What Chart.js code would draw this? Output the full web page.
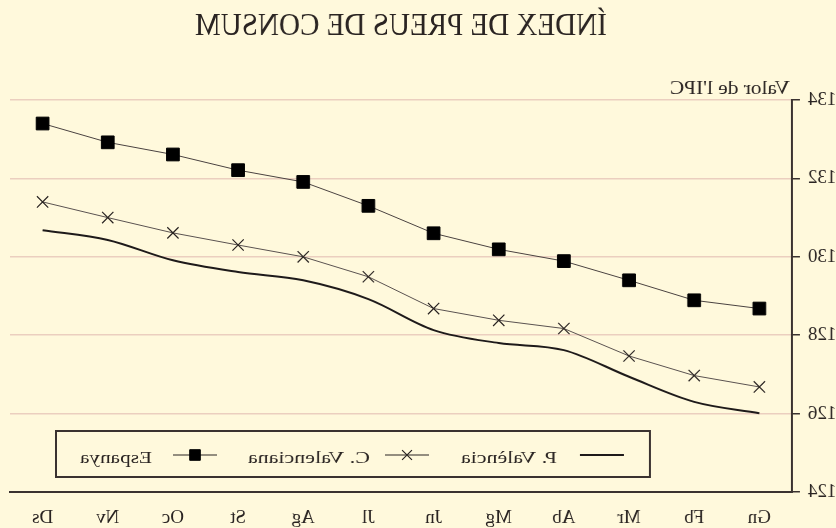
<!DOCTYPE html>
<html>
<head>
<meta charset="utf-8">
<script src="https://cdn.jsdelivr.net/npm/chart.js@4/dist/chart.umd.min.js"></script>
<style>
  html, body { margin: 0; padding: 0; background: #fff9dc; }
  /* the reference picture is mirrored left-right */
  #wrap { width: 836px; height: 528px; transform: scaleX(-1); }
</style>
</head>
<body>
<div id="wrap"><canvas id="ipcChart" width="836" height="528"></canvas></div>
<script>
// months (Gn..Ds)
const months = ['Gn', 'Fb', 'Mr', 'Ab', 'Mg', 'Jn', 'Jl', 'Ag', 'St', 'Oc', 'Nv', 'Ds'];

// values
const pValencia = [126.01, 126.30, 126.94, 127.62, 127.80, 128.13, 128.92, 129.40, 129.61, 129.91, 130.43, 130.68];
const cValenciana = [126.68, 126.97, 127.47, 128.17, 128.38, 128.68, 129.49, 130.00, 130.30, 130.61, 131.00, 131.40];
const espanya = [128.68, 128.89, 129.40, 129.89, 130.19, 130.60, 131.30, 131.91, 132.21, 132.61, 132.92, 133.40];

const yTicks = [124, 126, 128, 130, 132, 134];

const titleText = 'ÍNDEX DE PREUS DE CONSUM';
const yAxisText = "Valor de l'IPC";

const axisColor = '#3a3230';
const gridColor = '#ebcfbf';
const textColor = '#2a2422';
const serif = "'Liberation Serif', 'DejaVu Serif', serif";

// draw text left-aligned, squeezed/stretched to a given width
function fitText(c, text, x, y, width) {
    const w = c.measureText(text).width;
    c.save();
    c.translate(x, y);
    c.scale(width / w, 1);
    c.fillText(text, 0, 0);
    c.restore();
}

// title, axis caption and the boxed legend
const extrasPlugin = {
    id: 'extras',
    afterDraw(chart) {
        const c = chart.ctx;
        c.save();
        c.fillStyle = textColor;
        c.textAlign = 'left';
        c.textBaseline = 'alphabetic';

        c.font = '32px ' + serif;
        fitText(c, titleText, 229, 35, 412);

        c.font = '18px ' + serif;
        fitText(c, yAxisText, 46, 94, 120);

        // legend box
        c.strokeStyle = axisColor;
        c.lineWidth = 2;
        c.strokeRect(186, 431, 594, 46);

        const slots = [
            { x: 212, textX: 279, textW: 96 },
            { x: 407, textX: 466, textW: 122 },
            { x: 619, textX: 684, textW: 72 }
        ];
        const y = 455;
        chart.data.datasets.forEach((ds, i) => {
            const s = slots[i];
            c.strokeStyle = i === 0 ? ds.borderColor : '#2a2422';
            c.lineWidth = i === 0 ? 2 : 1.2;
            c.beginPath();
            c.moveTo(s.x, y);
            c.lineTo(s.x + 44, y);
            c.stroke();
            if (ds.pointRadius > 0) {
                c.fillStyle = ds.pointBackgroundColor;
                c.strokeStyle = ds.pointBorderColor;
                c.lineWidth = ds.pointBorderWidth;
                Chart.helpers.drawPoint(c, {
                    pointStyle: ds.pointStyle,
                    radius: ds.pointStyle === 'rect' ? 7.5 : 7,
                    borderWidth: ds.pointBorderWidth,
                    rotation: 0
                }, s.x + 22, y);
            }
            c.fillStyle = textColor;
            c.font = '17px ' + serif;
            fitText(c, ds.label, s.textX, 463, s.textW);
        });
        c.restore();
    }
};

const ctx = document.getElementById('ipcChart').getContext('2d');
const ipcChart = new Chart(ctx, {
    type: 'line',
    data: {
        labels: months,
        datasets: [{
            label: 'P. València',
            data: pValencia,
            borderColor: '#1e1a1a',
            borderWidth: 2,
            pointRadius: 0,
            pointStyle: false,
            cubicInterpolationMode: 'monotone',
            fill: false
        }, {
            label: 'C. Valenciana',
            data: cValenciana,
            borderColor: '#5a5250',
            borderWidth: 1,
            pointStyle: 'crossRot',
            pointRadius: 8,
            pointBorderColor: '#2a2422',
            pointBackgroundColor: '#2a2422',
            pointBorderWidth: 1.2,
            fill: false
        }, {
            label: 'Espanya',
            data: espanya,
            borderColor: '#4a4240',
            borderWidth: 1,
            pointStyle: 'rect',
            pointRadius: 9,
            pointBorderColor: '#000',
            pointBackgroundColor: '#000',
            pointBorderWidth: 1,
            fill: false
        }]
    },
    options: {
        responsive: false,
        animation: false,
        layout: { padding: { top: 100, right: 7, bottom: 0, left: 0 } },
        plugins: {
            legend: { display: false },
            title: { display: false },
            tooltip: { enabled: false }
        },
        scales: {
            x: {
                offset: true,
                grid: { display: false, drawTicks: false },
                border: { display: true, color: axisColor, width: 2 },
                ticks: { color: textColor, font: { family: serif, size: 19 }, padding: 15, maxRotation: 0 },
                afterFit: (s) => { s.height = 36; }
            },
            y: {
                min: 124,
                max: 134,
                afterBuildTicks: (s) => { s.ticks = yTicks.map(v => ({ value: v })); },
                grid: { color: gridColor, lineWidth: 1.5, tickColor: axisColor, tickLength: 8, tickWidth: 1.5 },
                border: { display: true, color: axisColor, width: 2 },
                ticks: { color: textColor, font: { family: serif, size: 19 }, padding: 8 },
                afterFit: (s) => { s.width = 44; }
            }
        }
    },
    plugins: [extrasPlugin]
});
</script>
</body>
</html>
